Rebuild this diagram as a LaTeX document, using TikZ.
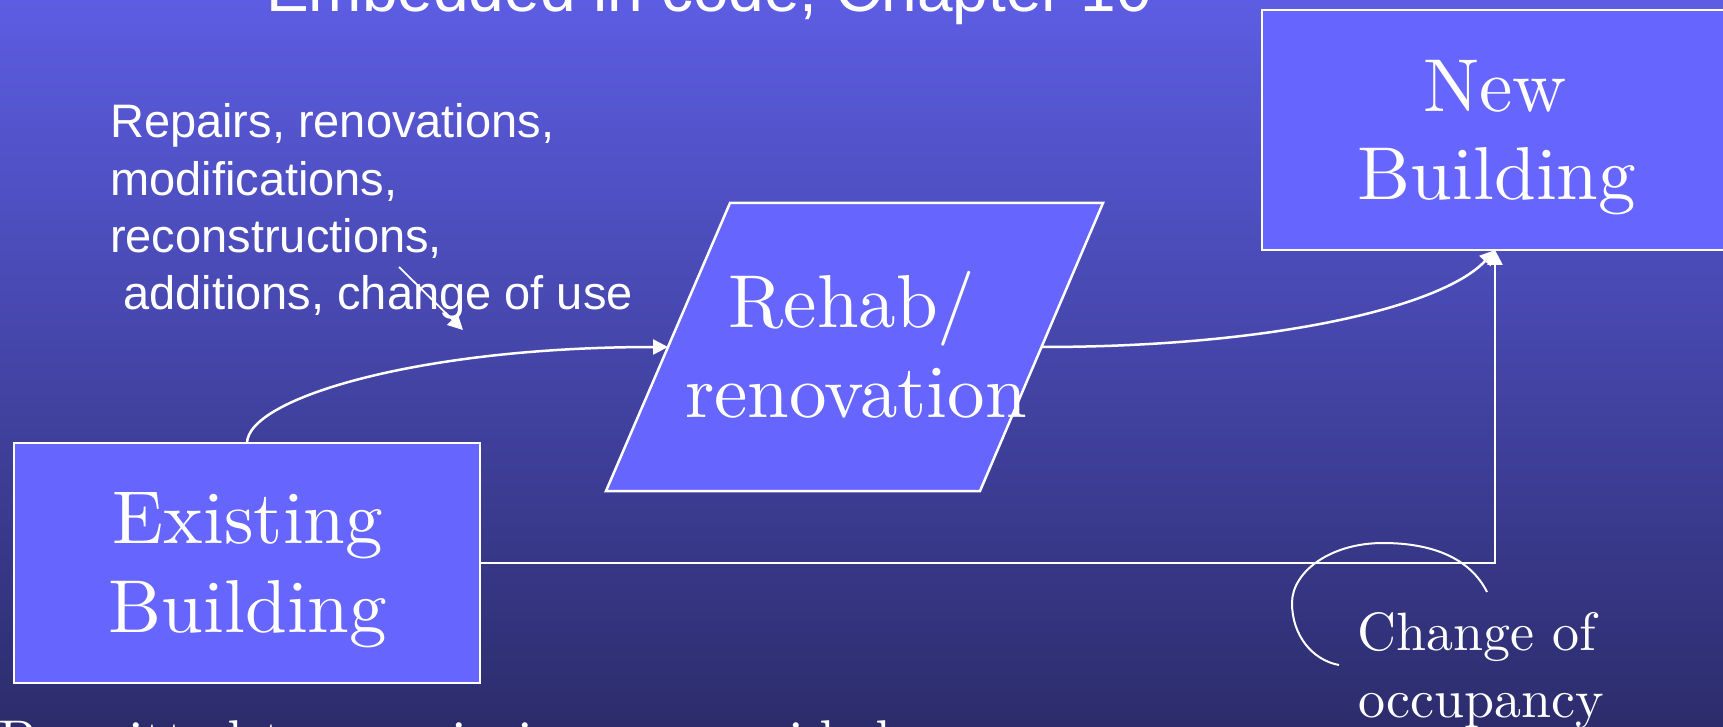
\documentclass[tikz,border=0pt]{standalone}
\usepackage{fontspec}
\setmainfont{lmroman10-regular}[Extension=.otf]
\newfontfamily\arialf{Liberation Sans}
\usetikzlibrary{arrows.meta}
\definecolor{bgtop}{RGB}{92,93,226}
\definecolor{bgbot}{RGB}{44,44,108}
\definecolor{boxfill}{RGB}{102,102,255}
\begin{document}
\begin{tikzpicture}[x=1pt,y=-1pt,
  boxst/.style={draw=white, line width=2.5pt, fill=boxfill, minimum width=466pt, minimum height=240pt, inner sep=0pt, outer sep=0pt},
  sertext/.style={text=white, font=\fontsize{75}{89}\selectfont, inner sep=0pt, anchor=base},
  smtext/.style={text=white, font=\fontsize{54}{67}\selectfont, inner sep=0pt, anchor=base west},
  sanstext/.style={text=white, font=\arialf\fontsize{47}{57}\selectfont, inner sep=0pt, anchor=base west},
  conn/.style={draw=white, line width=2.5pt, -{Triangle[length=15pt,width=15pt]}},
]
\clip (0,0) rectangle (1723,727);
\fill[top color=bgtop, bottom color=bgbot] (0,0) rectangle (1723,727);

% title (cut off at top)
\node[text=white, font=\arialf\fontsize{64}{70}\selectfont, inner sep=0pt, anchor=base west] (title) at (266,11.5) {Embedded in code, Chapter 10};

% boxes
\node[boxst] (exist) at (247,563) {};
\node[boxst] (newb) at (1495,130) {};
\draw[draw=white, line width=2.5pt, fill=boxfill] (730,203) -- (1103,203) -- (980,491) -- (606,491) -- cycle;
\coordinate (rehabL) at (668,347);
\coordinate (rehabR) at (1041.5,347);

% box texts
\node[sertext] (t1) at (248,543) {Existing};
\node[sertext] (t2) at (248,632) {Building};
\node[sertext] (t3) at (1495,112) {New};
\node[sertext] (t4) at (1497,200) {Building};
\node[sertext] (t5) at (852,327) {Rehab/};
\node[sertext] (t6) at (856,417) {renovation};

% annotation text
\node[sanstext] (l1) at (110,138) {Repairs, renovations,};
\node[sanstext] (l2) at (110,196) {modifications,};
\node[sanstext] (l3) at (110,253) {reconstructions,};
\node[sanstext] (l4) at (110,309) {\hspace*{13pt}additions, change of use};

\node[smtext] (c1) at (1357,650) {Change of};
\node[smtext] (c2) at (1358,717) {occupancy};

\node[text=white, font=\fontsize{56}{60}\selectfont, inner sep=0pt, anchor=base west] (bottom) at (-2,759) {Permitted to remain in use provided};

% connectors
\draw[conn] (exist.north) .. controls (248,398) and (420,347) .. (rehabL);
\draw[conn] (rehabR) .. controls (1280,347) and (1445,305) .. (newb.south);
\draw[conn] (exist.east) -| (newb.south);
\coordinate (sa) at (399,267);
\coordinate (sb) at (463,330);
\draw[conn, line width=1.8pt] (sa) -- (sb);

% change of occupancy sketch curve
\draw[white, line width=2pt] (1487,592) .. controls (1470,558) and (1432,543) .. (1383,543)
  .. controls (1330,543) and (1292,572) .. (1292,603)
  .. controls (1292,635) and (1312,660) .. (1339,665);
\end{tikzpicture}
\end{document}
